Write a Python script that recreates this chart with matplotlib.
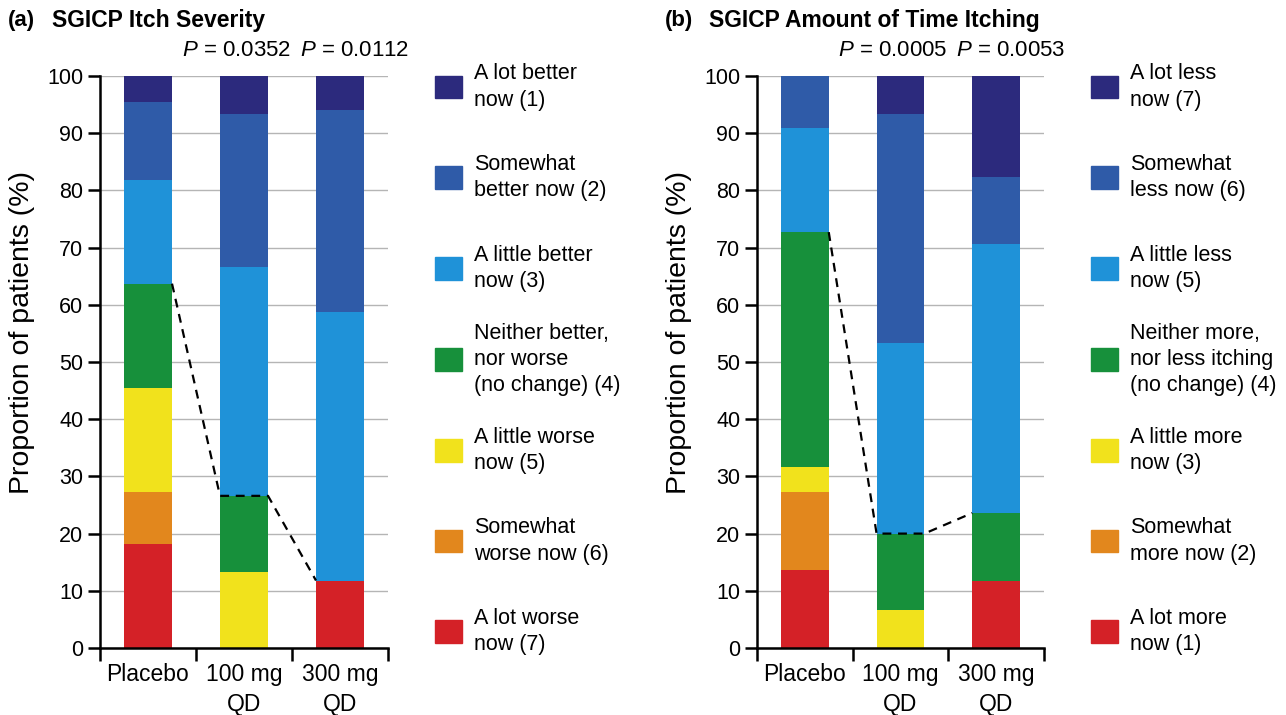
import matplotlib
matplotlib.use("Agg")
import matplotlib.pyplot as plt
import numpy as np
from matplotlib.patches import Rectangle

plt.rcParams["font.family"] = ["Liberation Sans", "DejaVu Sans"]
plt.rcParams["mathtext.fontset"] = "custom"
plt.rcParams["mathtext.it"] = "Liberation Sans:italic"
plt.rcParams["mathtext.rm"] = "Liberation Sans"

groups = ["Placebo", "100 mg\nQD", "300 mg\nQD"]

# (a) itch severity, % of patients, top of bar -> bottom of bar
itch_labels = [
    "A lot better\nnow (1)",
    "Somewhat\nbetter now (2)",
    "A little better\nnow (3)",
    "Neither better,\nnor worse\n(no change) (4)",
    "A little worse\nnow (5)",
    "Somewhat\nworse now (6)",
    "A lot worse\nnow (7)",
]
itch_placebo = [4.5, 13.6, 18.2, 18.2, 18.2, 9.1, 18.2]
itch_100 = [6.7, 26.7, 40.0, 13.3, 13.3, 0.0, 0.0]
itch_300 = [5.9, 35.3, 47.0, 0.0, 0.0, 0.0, 11.8]
itch_p = ["0.0352", "0.0112"]

# (b) amount of time itching
time_labels = [
    "A lot less\nnow (7)",
    "Somewhat\nless now (6)",
    "A little less\nnow (5)",
    "Neither more,\nnor less itching\n(no change) (4)",
    "A little more\nnow (3)",
    "Somewhat\nmore now (2)",
    "A lot more\nnow (1)",
]
time_placebo = [0.0, 9.1, 18.2, 41.0, 4.5, 13.6, 13.6]
time_100 = [6.7, 40.0, 33.3, 13.3, 6.7, 0.0, 0.0]
time_300 = [17.6, 11.8, 47.0, 11.8, 0.0, 0.0, 11.8]
time_p = ["0.0005", "0.0053"]

colors = ["#2c2a7d", "#2f5ba8", "#1f92d8", "#17903b", "#f1e21c", "#e2871d", "#d42127"]

BAR_W = 0.5


def draw_panel(ax, tag, title, labels, series, pvals):
    x = np.arange(len(groups)) + 0.5
    data = np.array(series)  # groups x categories (top -> bottom)
    bottoms = np.zeros(len(groups))
    # stack from the bottom category upward
    for k in range(data.shape[1] - 1, -1, -1):
        ax.bar(x, data[:, k], BAR_W, bottom=bottoms, color=colors[k], zorder=2)
        bottoms += data[:, k]

    # dashed line joining the "no change or worse" totals
    worse = data[:, 3:].sum(axis=1)
    lx = [x[0] + BAR_W / 2, x[1] - BAR_W / 2, x[1] + BAR_W / 2, x[2] - BAR_W / 2]
    ly = [worse[0], worse[1], worse[1], worse[2]]
    ax.plot(lx, ly, color="black", lw=1.6, ls=(0, (4, 3)), zorder=3)

    ax.set_xlim(0, 3)
    ax.set_ylim(0, 100)
    ax.set_yticks(np.arange(0, 101, 10))
    ax.yaxis.grid(True, color="#b5b5b5", lw=1, zorder=0)
    ax.set_axisbelow(True)
    ax.set_xticks([0, 1, 2, 3])
    ax.set_xticklabels([])
    ax.set_xticks(x, minor=True)
    ax.set_xticklabels(groups, minor=True, fontsize=16.5)
    for t in ax.get_xticklabels(minor=True):
        t.set_linespacing(1.4)
    ax.tick_params(axis="x", which="minor", length=0, pad=11)
    ax.tick_params(axis="x", which="major", length=9, width=1.8)
    ax.tick_params(axis="y", length=9, width=1.8, labelsize=15.5, pad=3)
    for s in ["top", "right"]:
        ax.spines[s].set_visible(False)
    for s in ["left", "bottom"]:
        ax.spines[s].set_linewidth(1.8)
    ax.set_ylabel("Proportion of patients (%)", fontsize=20.5)
    ax.yaxis.set_label_coords(-0.226, 0.551)

    for xi, dx, p in zip(x[1:], [-0.08, 0.15], pvals):
        ax.text(xi + dx, 1.045, r"$\it{P}$ = " + p, transform=ax.get_xaxis_transform(),
                ha="center", va="center", fontsize=16)

    # legend drawn by hand so the entries are evenly spaced
    for i, (lab, c) in enumerate(zip(labels, colors)):
        yc = (648 - (87 + i * 90.8)) / 572
        ax.add_patch(Rectangle((1.163, yc - 0.02), 0.094, 0.04, color=c,
                               transform=ax.transAxes, clip_on=False))
        ax.text(1.30, yc, lab, transform=ax.transAxes, ha="left", va="center",
                fontsize=15.5, linespacing=1.33)

    fig = ax.figure
    pos = ax.get_position()
    fig.text(pos.x0 - 92 / 1286, 0.972, tag, fontsize=16, fontweight="bold",
             ha="left", va="center")
    fig.text(pos.x0 - 48 / 1286, 0.972, title, fontsize=16.5, fontweight="bold",
             ha="left", va="center")


fig = plt.figure(figsize=(12.86, 7.15), dpi=100)
ax_a = fig.add_axes([100 / 1286, 1 - 648 / 715, 288 / 1286, 572 / 715])
ax_b = fig.add_axes([757 / 1286, 1 - 648 / 715, 287 / 1286, 572 / 715])

draw_panel(ax_a, "(a)", "SGICP Itch Severity", itch_labels,
           [itch_placebo, itch_100, itch_300], itch_p)
draw_panel(ax_b, "(b)", "SGICP Amount of Time Itching", time_labels,
           [time_placebo, time_100, time_300], time_p)

fig.savefig("out.png", dpi=100)
